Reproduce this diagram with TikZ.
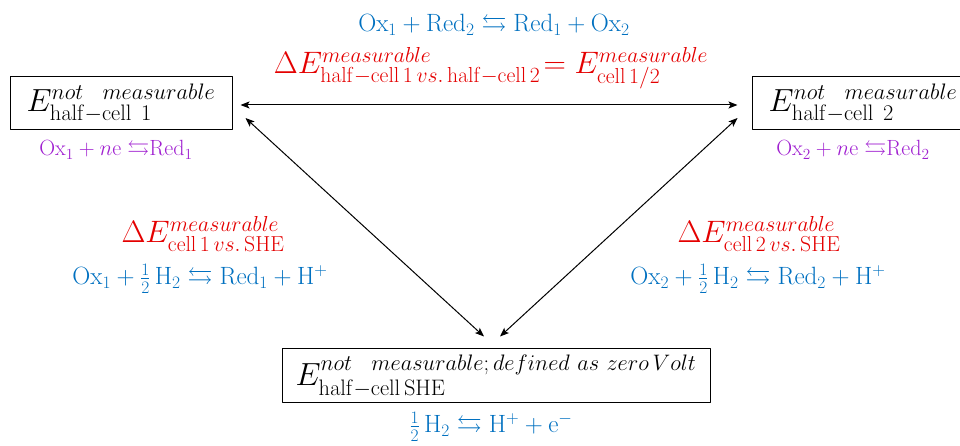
\documentclass[tikz,border=0pt]{standalone}
\usepackage{fix-cm}
\usepackage{amssymb}
\usetikzlibrary{arrows.meta}
\definecolor{eqblue}{RGB}{0,112,192}
\definecolor{dred}{RGB}{228,0,0}
\definecolor{halfpurple}{RGB}{160,32,208}
\begin{document}
\begin{tikzpicture}[x=1pt,y=1pt,line join=round,line cap=round,>={Stealth[length=9pt,width=7pt,inset=2pt]},
	cellbox/.style={draw,line width=1pt,inner sep=0pt,font=\fontsize{32}{38}\selectfont},
	eqn/.style={text=eqblue,anchor=base,inner sep=1pt,font=\fontsize{25}{30}\selectfont},
	halfeq/.style={text=halfpurple,anchor=base,inner sep=1pt,font=\fontsize{22}{26}\selectfont},
	delta/.style={text=dred,anchor=base,inner sep=1pt,font=\fontsize{31}{37}\selectfont}]
	\useasboundingbox (0,0) rectangle (960,446);
	
	% half-cells
	\node[cellbox,minimum width=222pt,minimum height=53pt] (h1) at (121,342.5) {$E^{not\ \ measurable}_{\mathrm{half{-}cell\ 1}}$};
	\node[cellbox,minimum width=222pt,minimum height=53pt] (h2) at (863,342.5) {$E^{not\ \ measurable}_{\mathrm{half{-}cell\ 2}}$};
	\node[cellbox,minimum width=428pt,minimum height=54pt] (she) at (496,70) {$E^{not\ \ measurable;\,defined\,\,as\,\,zero\,Volt}_{\mathrm{half{-}cell\,SHE}}$};
	
	\node[halfeq] (r1) at (116,290) {$\mathrm{Ox}_1+n\mathrm{e}\;{\leftrightarrows}\mathrm{Red}_1$};
	\node[halfeq] (r2) at (853,290) {$\mathrm{Ox}_2+n\mathrm{e}\;{\leftrightarrows}\mathrm{Red}_2$};
	\node[eqn] (rshe) at (491,13) {$\frac{1}{2}\,\mathrm{H}_2\leftrightarrows\mathrm{H}^+ + \mathrm{e}^-$};
	
	% cell reactions
	\node[eqn] (eqtop) at (494,414) {$\mathrm{Ox}_1+\mathrm{Red}_2\leftrightarrows\mathrm{Red}_1+\mathrm{Ox}_2$};
	\node[delta] (dtop) at (491,372) {$\Delta E^{measurable}_{\mathrm{half{-}cell\,1}\,vs.\,\mathrm{half{-}cell\,2}}\!= E^{measurable}_{\mathrm{cell\,1/2}}$};
	\node[delta] (dleft) at (203,203) {$\Delta E^{measurable}_{\mathrm{cell\,1}\,vs.\,\mathrm{SHE}}$};
	\node[delta] (dright) at (759,203) {$\Delta E^{measurable}_{\mathrm{cell\,2}\,vs.\,\mathrm{SHE}}$};
	\node[eqn] (eqleft) at (200,161) {$\mathrm{Ox}_1+\frac{1}{2}\,\mathrm{H}_2\leftrightarrows\mathrm{Red}_1+\mathrm{H}^+$};
	\node[eqn] (eqright) at (758,161) {$\mathrm{Ox}_2+\frac{1}{2}\,\mathrm{H}_2\leftrightarrows\mathrm{Red}_2+\mathrm{H}^+$};
	
	\draw[<->,line width=1pt] ([shift={(8,-1.5)}]h1.east) -- ([shift={(-14,-1.5)}]h2.west);
	\draw[<->,line width=1pt] ([shift={(13,-14.5)}]h1.east) -- ([shift={(-12,12)}]she.north);
	\draw[<->,line width=1pt] ([shift={(-14,-14.5)}]h2.west) -- ([shift={(4,12)}]she.north);
\end{tikzpicture}
\end{document}
